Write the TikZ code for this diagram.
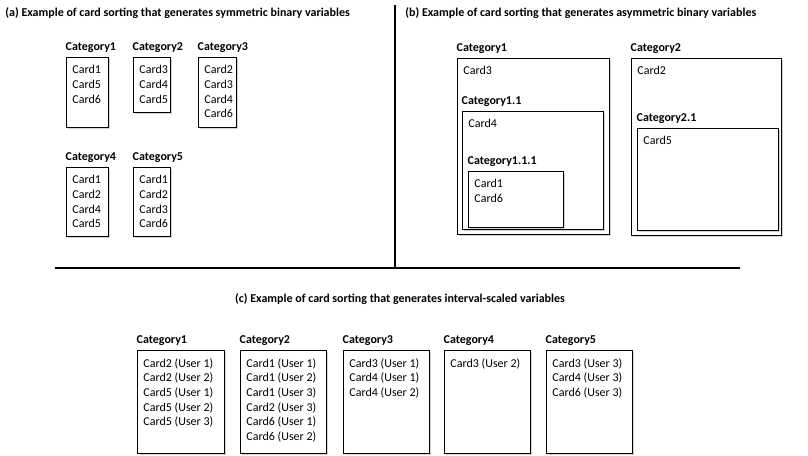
\documentclass[tikz,border=0pt]{standalone}
\usepackage{fontspec}
\setmainfont{Carlito}
\usetikzlibrary{positioning, shadows}

\tikzset{
	box/.style={draw,thick,anchor=north west,inner sep=0pt,fill=white,
		drop shadow={shadow xshift=1.2pt,shadow yshift=-1.2pt,opacity=0.35}},
	cat/.style={anchor=south west,inner sep=0pt,font=\bfseries\small},
	cards/.style={anchor=north west,inner sep=0pt,align=left,font=\small},
	title/.style={inner sep=0pt,font=\bfseries\small}
}
% \cardbox{name}{x}{y}{width}{height}{label}{cards}
\newcommand{\cardbox}[7]{
	\node (#1) [box,minimum width=#4*0.75pt,minimum height=#5*0.75pt] at (#2,#3) {};
	\node (#1lab) [cat] at ([xshift=-0.5pt,yshift=3pt]#1.north west) {#6};
	\node (#1txt) [cards] at ([xshift=4.5pt,yshift=-6pt]#1.north west) {#7};
}

\begin{document}
\begin{tikzpicture}[x=0.75pt,y=-0.75pt,line width=0.6pt]
	\useasboundingbox (0,0) rectangle (808,456);
	% separators
	\coordinate (vtop) at (395,5);
	\coordinate (vbot) at (395,268);
	\coordinate (hl) at (55,268);
	\coordinate (hr) at (740,268);
	\draw[thick] (vtop) -- (vbot);
	\draw[thick] (hl) -- (hr);

	% (a)
	\node (ta) [title,anchor=west] at (5,13) {(a) Example of card sorting that generates symmetric binary variables};
	\cardbox{a1}{66}{57}{42}{70}{Category1}{Card1\\Card5\\Card6}
	\cardbox{a2}{133}{57}{37}{55}{Category2}{Card3\\Card4\\Card5}
	\cardbox{a3}{198}{57}{38}{70}{Category3}{Card2\\Card3\\Card4\\Card6}
	\cardbox{a4}{66}{167}{42}{69}{Category4}{Card1\\Card2\\Card4\\Card5}
	\cardbox{a5}{133}{167}{37}{69}{Category5}{Card1\\Card2\\Card3\\Card6}

	% (b)
	\node (tb) [title,anchor=west] at (405,13) {(b) Example of card sorting that generates asymmetric binary variables};
	\cardbox{b1}{457}{58}{152}{176}{Category1}{Card3}
	\cardbox{b11}{462}{111}{141}{118}{Category1.1}{Card4}
	\cardbox{b111}{468}{171}{95}{56}{Category1.1.1}{Card1\\Card6}
	\cardbox{b2}{631}{58}{150}{177}{Category2}{Card2}
	\cardbox{b21}{637}{128}{141}{102}{Category2.1}{Card5}

	% (c)
	\node (tc) [title] at (400,299) {(c) Example of card sorting that generates interval-scaled variables};
	\cardbox{c1}{137}{350}{87}{103}{Category1}{Card2 (User 1)\\Card2 (User 2)\\Card5 (User 1)\\Card5 (User 2)\\Card5 (User 3)}
	\cardbox{c2}{240}{350}{86}{103}{Category2}{Card1 (User 1)\\Card1 (User 2)\\Card1 (User 3)\\Card2 (User 3)\\Card6 (User 1)\\Card6 (User 2)}
	\cardbox{c3}{343}{350}{86}{103}{Category3}{Card3 (User 1)\\Card4 (User 1)\\Card4 (User 2)}
	\cardbox{c4}{444}{350}{86}{103}{Category4}{Card3 (User 2)}
	\cardbox{c5}{546}{350}{86}{103}{Category5}{Card3 (User 3)\\Card4 (User 3)\\Card6 (User 3)}
\end{tikzpicture}
\end{document}
